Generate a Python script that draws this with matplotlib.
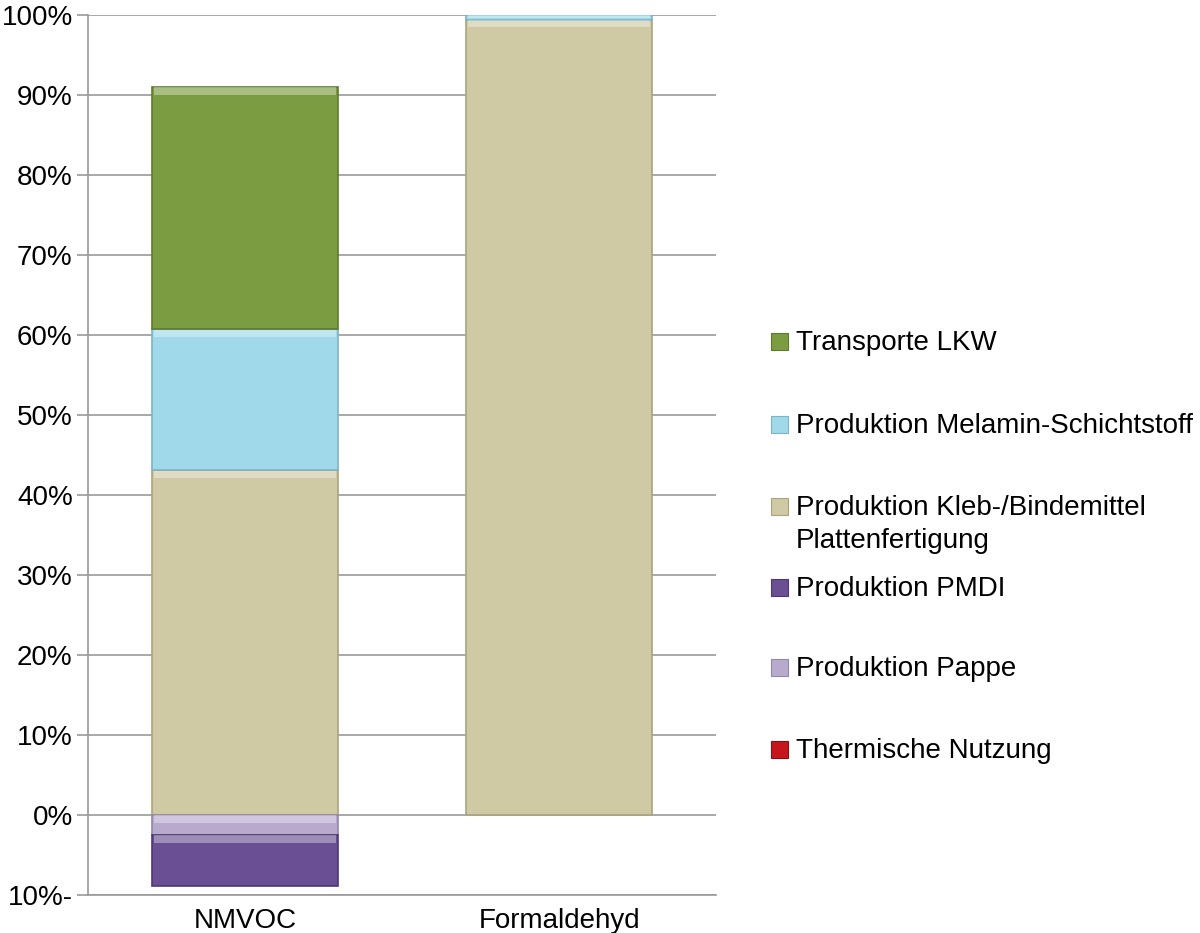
import numpy as np
import matplotlib.pyplot as plt
from matplotlib.patches import Rectangle

plt.rcParams['font.family'] = ['Liberation Sans', 'DejaVu Sans']

# Daten (Anteile in %)
categories = ["NMVOC", "Formaldehyd"]
series_names = ["Transporte LKW",
                "Produktion Melamin-Schichtstoff",
                "Produktion Kleb-/Bindemittel\nPlattenfertigung",
                "Produktion PMDI",
                "Produktion Pappe",
                "Thermische Nutzung"]
transporte = [30.3, 0.0]
melamin = [17.6, 0.6]
kleb = [43.1, 99.4]
pmdi = [-6.4, 0.0]
pappe = [-2.5, 0.0]
thermisch = [0.0, 0.0]

colors = {"transporte": "#7b9c41", "melamin": "#9fd9ea", "kleb": "#cfcaa4",
          "pmdi": "#6b4f95", "pappe": "#b8aacd", "thermisch": "#c4161c"}
edges = {"transporte": "#5f7a2f", "melamin": "#7fb4c4", "kleb": "#a9a47f",
         "pmdi": "#4e3870", "pappe": "#9486a8", "thermisch": "#8e0f13"}

fig = plt.figure(figsize=(12, 9.33), dpi=100)
ax = fig.add_axes([0.0733, 0.0407, 0.5235, 0.9432])

x = np.arange(len(categories))
w = 0.59


def stacked(vals, base, key):
    vals = np.array(vals)
    m = vals != 0
    if m.any():
        ax.bar(x[m], vals[m], w, bottom=base[m], color=colors[key],
               edgecolor=edges[key], linewidth=1.2, zorder=3)
        # heller Streifen oben (Bevel)
        upper = np.maximum(base, base + vals)[m]
        hl = np.minimum(np.abs(vals[m]) * 0.5, 0.9)
        ax.bar(x[m], hl, w * 0.985, bottom=upper - hl - 0.05,
               color="white", alpha=0.35, linewidth=0, zorder=4)
    return base + vals


pos = np.zeros(len(categories))
pos = stacked(thermisch, pos, "thermisch")
pos = stacked(kleb, pos, "kleb")
pos = stacked(melamin, pos, "melamin")
pos = stacked(transporte, pos, "transporte")

neg = np.zeros(len(categories))
neg = stacked(pappe, neg, "pappe")
neg = stacked(pmdi, neg, "pmdi")

ax.set_xlim(-0.5, 1.5)
ax.set_ylim(-10, 100)
ticks = np.arange(-10, 101, 10)
ax.set_yticks(ticks)
ax.set_yticklabels(["10%-" if t < 0 else "%d%%" % t for t in ticks], fontsize=20)
ax.set_xticks(x)
ax.set_xticklabels(categories, fontsize=20)
ax.tick_params(axis='x', length=0, pad=9)
ax.tick_params(axis='y', length=8, color="#999999", width=1.2, pad=3)
ax.grid(axis='y', color="#999999", linewidth=1.2, zorder=0)
for s in ["top", "right"]:
    ax.spines[s].set_visible(False)
for s in ["left", "bottom"]:
    ax.spines[s].set_color("#999999")
    ax.spines[s].set_linewidth(1.2)

# Legende rechts (Pixelpositionen der Einträge)
leg_keys = ["transporte", "melamin", "kleb", "pmdi", "pappe", "thermisch"]
leg_y = [342, 425, 507, 588, 668, 750]
for name, key, yp in zip(series_names, leg_keys, leg_y):
    yf = 1 - yp / 933
    fig.patches.append(Rectangle((771 / 1200, yf - 8 / 933), 17 / 1200, 17 / 933,
                                 transform=fig.transFigure, facecolor=colors[key],
                                 edgecolor=edges[key], linewidth=0.8))
    for i, line in enumerate(name.split("\n")):
        fig.text(796 / 1200, 1 - (yp + 8 + 33 * i) / 933, line, fontsize=20,
                 va='baseline')

fig.savefig("out.png", dpi=100)
